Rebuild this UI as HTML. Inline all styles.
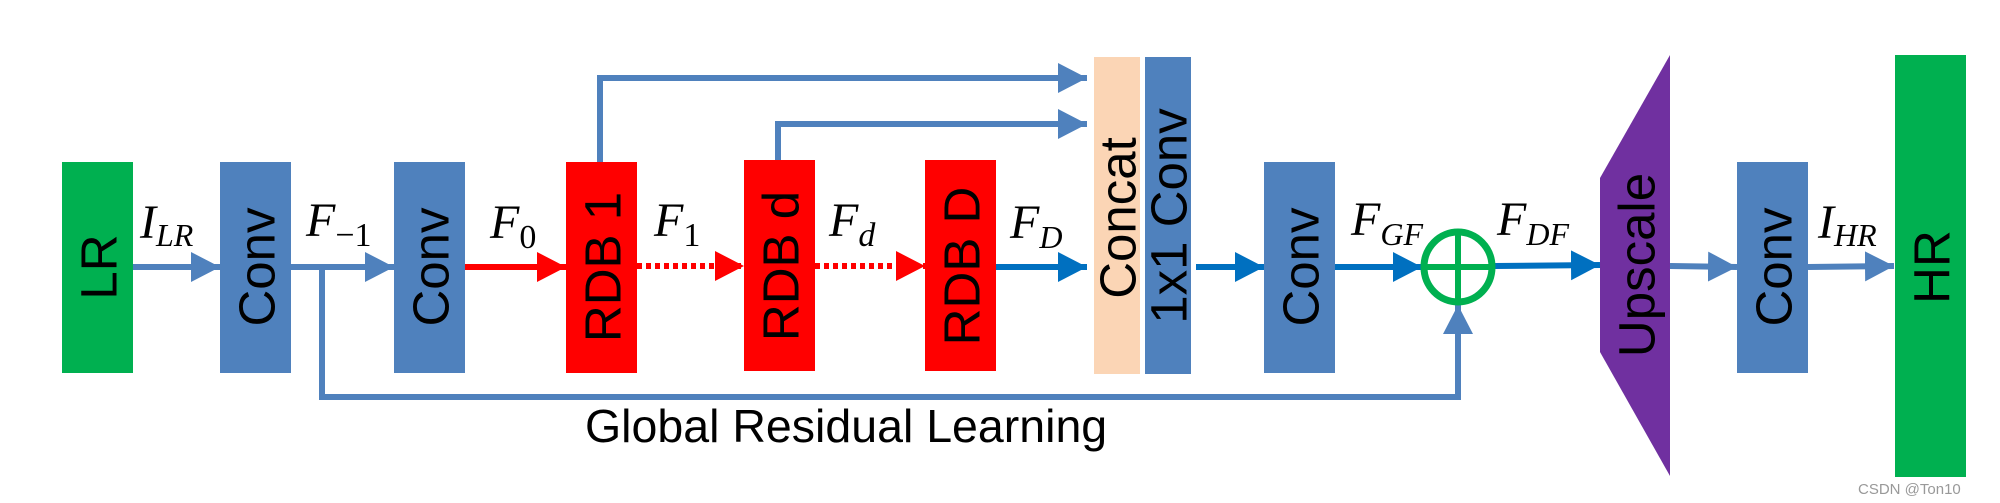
<!DOCTYPE html>
<html><head><meta charset="utf-8"><style>
html,body{margin:0;padding:0;background:#fff;width:2000px;height:503px;overflow:hidden}
.b{font-family:"Liberation Sans",sans-serif;font-size:51px;fill:#000}
.m{font-family:"Liberation Serif",serif;font-style:italic;fill:#000}
</style></head><body>
<svg width="2000" height="503" viewBox="0 0 2000 503" xmlns="http://www.w3.org/2000/svg">
<defs>
<marker id="ab" markerWidth="30" markerHeight="30" refX="29" refY="15" orient="auto" markerUnits="userSpaceOnUse"><path d="M0,0 L29,15 L0,30 Z" fill="#4f81bd"/></marker>
<marker id="ad" markerWidth="30" markerHeight="30" refX="29" refY="15" orient="auto" markerUnits="userSpaceOnUse"><path d="M0,0 L29,15 L0,30 Z" fill="#0070c0"/></marker>
<marker id="ar" markerWidth="30" markerHeight="30" refX="29" refY="15" orient="auto" markerUnits="userSpaceOnUse"><path d="M0,0 L29,15 L0,30 Z" fill="#ff0000"/></marker>
</defs>
<rect x="62" y="162" width="71" height="211" fill="#00b050"/>
<rect x="220" y="162" width="71" height="211" fill="#4f81bd"/>
<rect x="394" y="162" width="71" height="211" fill="#4f81bd"/>
<rect x="566" y="162" width="71" height="211" fill="#ff0000"/>
<rect x="744" y="160" width="71" height="211" fill="#ff0000"/>
<rect x="925" y="160" width="71" height="211" fill="#ff0000"/>
<rect x="1094" y="57" width="46" height="317" fill="#fbd5b5"/>
<rect x="1145" y="57" width="46" height="317" fill="#4f81bd"/>
<rect x="1264" y="162" width="71" height="211" fill="#4f81bd"/>
<polygon points="1600,178 1670,55 1670,476 1600,352" fill="#7030a0"/>
<rect x="1737" y="162" width="71" height="211" fill="#4f81bd"/>
<rect x="1895" y="55" width="71" height="422" fill="#00b050"/>
<g class="b" text-anchor="middle" dominant-baseline="central">
<text transform="translate(99,267) rotate(-90)">LR</text>
<text transform="translate(257,267) rotate(-90)">Conv</text>
<text transform="translate(431,267) rotate(-90)">Conv</text>
<text transform="translate(603,267) rotate(-90)">RDB 1</text>
<text transform="translate(781,266) rotate(-90)">RDB d</text>
<text transform="translate(962,266) rotate(-90)">RDB D</text>
<text transform="translate(1118,218) rotate(-90)">Concat</text>
<text transform="translate(1169,216) rotate(-90)">1x1 Conv</text>
<text transform="translate(1301,267) rotate(-90)">Conv</text>
<text transform="translate(1637,265) rotate(-90)">Upscale</text>
<text transform="translate(1774,267) rotate(-90)">Conv</text>
<text transform="translate(1932,267) rotate(-90)">HR</text>
</g>
<g fill="none" stroke-width="6">
<line x1="133" y1="267" x2="220" y2="267" stroke="#4f81bd" marker-end="url(#ab)"/>
<line x1="291" y1="267" x2="394" y2="267" stroke="#4f81bd" marker-end="url(#ab)"/>
<line x1="465" y1="267" x2="566" y2="267" stroke="#ff0000" marker-end="url(#ar)"/>
<line x1="637" y1="266" x2="744" y2="266" stroke="#ff0000" stroke-dasharray="5,4" marker-end="url(#ar)"/>
<line x1="815" y1="266" x2="925" y2="266" stroke="#ff0000" stroke-dasharray="5,4" marker-end="url(#ar)"/>
<line x1="996" y1="267" x2="1087" y2="267" stroke="#0070c0" marker-end="url(#ad)"/>
<polyline points="600,162 600,78 1087,78" stroke="#4f81bd" marker-end="url(#ab)"/>
<polyline points="778,160 778,124 1087,124" stroke="#4f81bd" marker-end="url(#ab)"/>
<line x1="1196" y1="267" x2="1264" y2="267" stroke="#0070c0" marker-end="url(#ad)"/>
<line x1="1335" y1="267" x2="1422" y2="267" stroke="#0070c0" marker-end="url(#ad)"/>
<line x1="1495" y1="266" x2="1600" y2="265" stroke="#0070c0" marker-end="url(#ad)"/>
<line x1="1670" y1="266" x2="1737" y2="267" stroke="#4f81bd" marker-end="url(#ab)"/>
<line x1="1808" y1="267" x2="1894" y2="266" stroke="#4f81bd" marker-end="url(#ab)"/>
<polyline points="322,267 322,397 1458,397 1458,305" stroke="#4f81bd" marker-end="url(#ab)"/>
</g>
<ellipse cx="1458" cy="267" rx="34" ry="35" fill="none" stroke="#00b050" stroke-width="7"/>
<line x1="1424" y1="267" x2="1492" y2="267" stroke="#00b050" stroke-width="6"/>
<line x1="1458" y1="232" x2="1458" y2="302" stroke="#00b050" stroke-width="6"/>
<g class="m">
<text x="140" y="238" font-size="48">I<tspan font-size="32" dy="8">LR</tspan></text>
<text x="306" y="236" font-size="48">F<tspan font-size="34" dy="10" font-style="normal">−1</tspan></text>
<text x="490" y="238" font-size="48">F<tspan font-size="34" dy="10" font-style="normal">0</tspan></text>
<text x="654" y="236" font-size="48">F<tspan font-size="34" dy="10" font-style="normal">1</tspan></text>
<text x="829" y="236" font-size="48">F<tspan font-size="34" dy="10">d</tspan></text>
<text x="1010" y="238" font-size="48">F<tspan font-size="32" dy="10">D</tspan></text>
<text x="1351" y="235" font-size="48">F<tspan font-size="32" dy="10">GF</tspan></text>
<text x="1497" y="235" font-size="48">F<tspan font-size="32" dy="10">DF</tspan></text>
<text x="1818" y="238" font-size="48">I<tspan font-size="32" dy="8">HR</tspan></text>
</g>
<text x="585" y="442" font-family="Liberation Sans, sans-serif" font-size="46.5" fill="#000">Global Residual Learning</text>
<text x="1858" y="494" font-family="Liberation Sans, sans-serif" font-size="15" fill="#999">CSDN @Ton10</text>
</svg>
</body></html>
